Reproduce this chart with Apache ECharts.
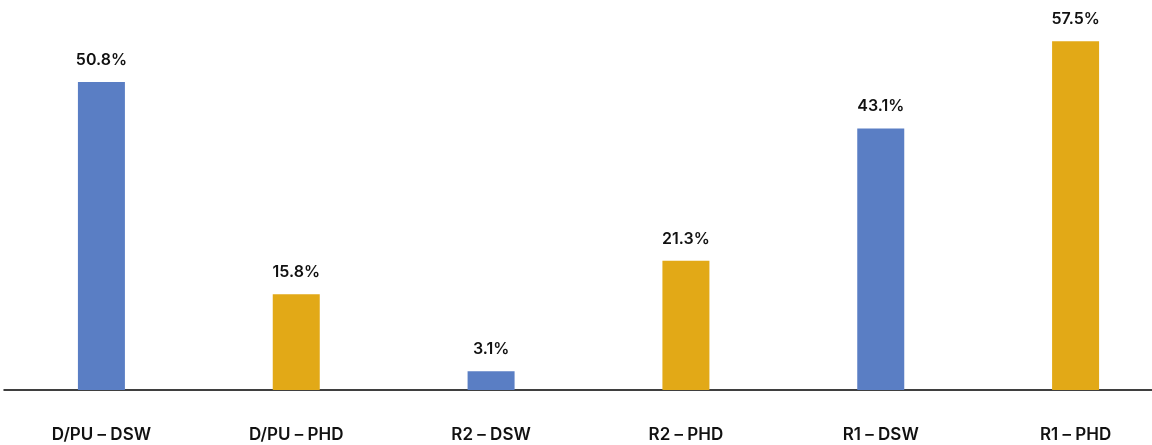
<!DOCTYPE html>
<html>
<head>
<meta charset="utf-8">
<script src="https://cdn.jsdelivr.net/npm/echarts@6/dist/echarts.min.js"></script>
<style>
  html, body { margin: 0; padding: 0; background: #fff; }
  #chart { width: 1152px; height: 445px; }
</style>
</head>
<body>
<div id="chart"></div>
<script>
// Share of each group, in percent
const categories = ['D/PU – DSW', 'D/PU – PHD', 'R2 – DSW', 'R2 – PHD', 'R1 – DSW', 'R1 – PHD'];
const values = [50.8, 15.8, 3.1, 21.3, 43.1, 57.5];
const colors = ['#5A7EC4', '#E2A917'];

const chart = echarts.init(document.getElementById('chart'));
chart.setOption({
  animation: false,
  grid: { left: 4, width: 1169, top: 0, bottom: 55, outerBoundsMode: 'none', containLabel: false },
  xAxis: {
    type: 'category',
    data: categories,
    axisLine: { lineStyle: { color: '#000', width: 1.5 } },
    axisTick: { show: false },
    axisLabel: {
      color: '#111',
      fontFamily: 'Inter',
      fontWeight: 600,
      fontSize: 17,
      margin: 36,
      interval: 0
    }
  },
  yAxis: {
    type: 'value',
    min: 0,
    max: 64.3,
    show: false,
    splitLine: { show: false }
  },
  series: [{
    type: 'bar',
    data: values.map((v, i) => ({ value: v, itemStyle: { color: colors[i % 2] } })),
    barWidth: 47,
    label: {
      show: true,
      position: 'top',
      distance: 14,
      color: '#111',
      fontFamily: 'Inter',
      fontWeight: 600,
      fontSize: 16,
      formatter: p => p.value.toFixed(1) + '%'
    }
  }]
});
</script>
</body>
</html>
